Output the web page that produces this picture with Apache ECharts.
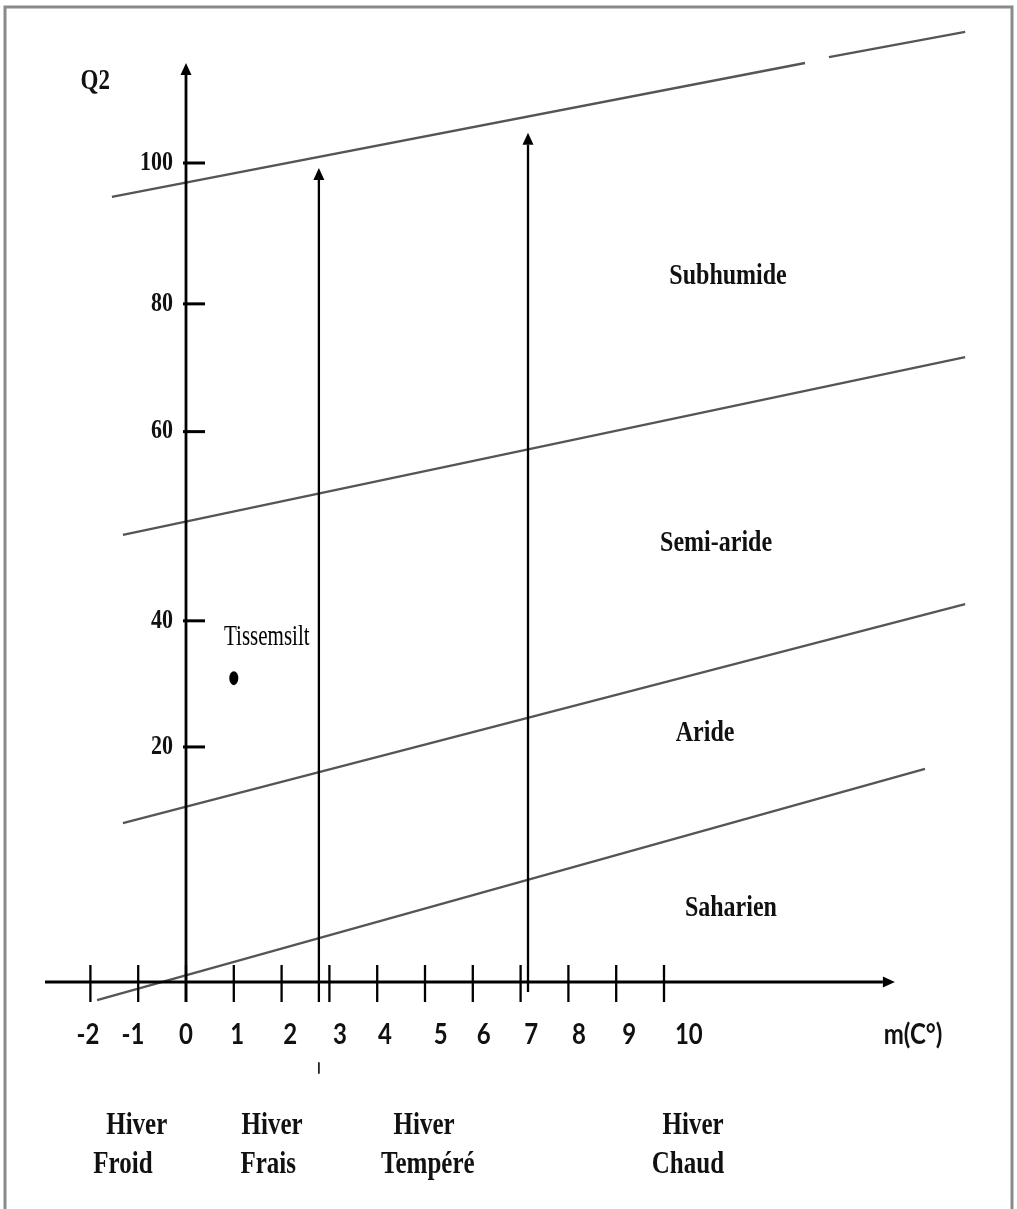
<!DOCTYPE html>
<html><head><meta charset="utf-8">
<script src="https://cdn.jsdelivr.net/npm/echarts@6/dist/echarts.min.js"></script>
<style>html,body{margin:0;padding:0;background:#fff}#c{width:1017px;height:1209px}</style>
</head><body><div id="c"></div>
<script>
// ---------- data (axis units) ----------
const xTicks = [-2,-1,0,1,2,3,4,5,6,7,8,9,10];
const xTickLabels = ['-2','-1','0','1','2','3','4','5','6','7','8','9','10'];
const xTickLabelAt = [-2.05,-1.11,0,1.07,2.18,3.22,4.16,5.33,6.23,7.22,8.22,9.27,10.52];
const xAxisName = 'm(C°)';
const xAxisNameAt = 15.21;
const q2TickLabels = ['100','80','60','40','20'];
const q2TickAt = [100, 82.8, 67.2, 44.1, 28.7];
const yAxisName = 'Q2';
const yAxisNameAt = [-1.9, 109.9];
// Emberger limit lines (m, Q2)
const limitSubhumide = [[-1.55,95.85],[12.95,112.21],[13.2,'-'],[13.45,112.94],[16.30,116.0]];
const limitSemiAride = [[-1.32,54.58],[16.30,76.31]];
const limitAride = [[-1.32,19.41],[16.30,46.15]];
const limitSaharien = [[-1.86,-2.20],[15.46,26.01]];
// arrows: axes and winter-type limits
const q2Axis = [[0,-2.44],[0,112.2]];
const mAxis = [[-2.95,0],[14.83,0]];
const limitFroidFrais = [[2.78,-2.44],[2.78,99.4]];
const limitTempereChaud = [[7.155,-1.22],[7.155,103.7]];
const strayMark = [[2.78,-9.8],[2.78,-11.2]];
// station
const stations = ['Tissemsilt'];
const stationM = [1.0];
const stationQ2 = [37.1];
const stationLabelAt = [[1.69, 42.1]];
// bioclimatic zone labels
const zoneNames = ['Subhumide','Semi-aride','Aride','Saharien'];
const zoneX = [11.34,11.09,10.86,11.40];
const zoneY = [86.2,53.6,30.4,9.04];
// winter variants
const winterTop = ['Hiver','Hiver','Hiver','Hiver'];
const winterTopX = [-1.03,1.80,4.98,10.61];
const winterTopY = -17.6;
const winterBottom = ['Froid','Frais','Tempéré','Chaud'];
const winterBottomX = [-1.32,1.72,5.06,10.5];
const winterBottomY = -22.3;

// ---------- chart ----------
const SERIF = '"Liberation Serif", "Times New Roman", serif';
const SANS = 'Lato, "Liberation Sans", sans-serif';

function textSeries(items, font, dy, sy, align, dx, fill) {
  return {
    type: 'custom', silent: true, z: 10,
    data: items.map(it => [it[0], it[1]]),
    renderItem: (params, api) => {
      const p = api.coord([api.value(0), api.value(1)]);
      return { type: 'text', x: p[0] + (dx || 0), y: p[1] + (dy || 0), scaleY: sy || 1,
        style: { text: items[params.dataIndex][2], font: font, fill: fill || '#111',
                 align: align || 'center', verticalAlign: 'middle' } };
    }
  };
}
function limitLine(data) {
  return { type: 'line', data: data, symbol: 'none', silent: true, connectNulls: false,
           lineStyle: { color: '#555', width: 2.3 }, z: 2 };
}
const arrows = [q2Axis, mAxis, limitFroidFrais, limitTempereChaud];

const option = {
  animation: false,
  grid: { left: 18.7, top: 7.39, width: 979.9, height: 1187.55, containLabel: false },
  xAxis: { type: 'value', min: -3.5, max: 17, show: false },
  yAxis: { type: 'value', min: -26, max: 119, show: false },
  graphic: [
    { type: 'rect', shape: { x: 5, y: 7, width: 1007, height: 1215 },
      style: { fill: 'none', stroke: '#8a8a8a', lineWidth: 3 }, z: 0 }
  ],
  series: [
    limitLine(limitSubhumide),
    limitLine(limitSemiAride),
    limitLine(limitAride),
    limitLine(limitSaharien),
    { // arrows
      type: 'custom', silent: true, z: 5,
      data: arrows.map(a => [a[0][0], a[0][1], a[1][0], a[1][1]]),
      encode: { x: [0, 2], y: [1, 3] },
      renderItem: (params, api) => {
        const p1 = api.coord([api.value(0), api.value(1)]);
        const p2 = api.coord([api.value(2), api.value(3)]);
        const dx = p2[0] - p1[0], dy = p2[1] - p1[1];
        const L = Math.sqrt(dx * dx + dy * dy), ux = dx / L, uy = dy / L;
        const hl = 12, hw = 5.5;
        const bx = p2[0] - ux * hl, by = p2[1] - uy * hl;
        return { type: 'group', children: [
          { type: 'line', shape: { x1: p1[0], y1: p1[1], x2: bx, y2: by },
            style: { stroke: '#000', lineWidth: params.dataIndex < 2 ? 2.8 : 2.3 } },
          { type: 'polygon', shape: { points: [[p2[0], p2[1]],
              [bx - uy * hw, by + ux * hw], [bx + uy * hw, by - ux * hw]] },
            style: { fill: '#000' } }
        ] };
      }
    },
    { // stray mark
      type: 'line', data: strayMark, symbol: 'none', silent: true,
      lineStyle: { color: '#222', width: 1.8 }
    },
    { // x ticks crossing the axis
      type: 'custom', silent: true, z: 6,
      data: xTicks.map(v => [v, 0]),
      renderItem: (params, api) => {
        const p = api.coord([api.value(0), api.value(1)]);
        return { type: 'line', shape: { x1: p[0], y1: p[1] - 17, x2: p[0], y2: p[1] + 20 },
                 style: { stroke: '#000', lineWidth: 2.3 } };
      }
    },
    { // y tick dashes
      type: 'custom', silent: true, z: 6,
      data: q2TickAt.map(v => [0, v]),
      renderItem: (params, api) => {
        const p = api.coord([api.value(0), api.value(1)]);
        return { type: 'line', shape: { x1: p[0] - 3, y1: p[1], x2: p[0] + 19, y2: p[1] },
                 style: { stroke: '#000', lineWidth: 3 } };
      }
    },
    textSeries(q2TickAt.map((v, i) => [0, v, q2TickLabels[i]]), 'bold 22px ' + SERIF, 0, 1.2, 'right', -13),
    textSeries(xTickLabelAt.map((x, i) => [x, 0, xTickLabels[i]]), 'bold 24px ' + SANS, 53, 1.2),
    textSeries([[xAxisNameAt, 0, xAxisName]], 'bold 24px ' + SANS, 53, 1.2),
    textSeries([[yAxisNameAt[0], yAxisNameAt[1], yAxisName]], 'bold 23px ' + SERIF, 0, 1.25),
    textSeries(zoneNames.map((n, i) => [zoneX[i], zoneY[i], n]), 'bold 24px ' + SERIF, 0, 1.25),
    textSeries(winterTop.map((n, i) => [winterTopX[i], winterTopY, n]), 'bold 25px ' + SERIF, 0, 1.25),
    textSeries(winterBottom.map((n, i) => [winterBottomX[i], winterBottomY, n]), 'bold 25px ' + SERIF, 0, 1.25),
    textSeries(stationLabelAt.map((p, i) => [p[0], p[1], stations[i]]), '21px ' + SERIF, 0, 1.4, 'center', 0, '#000'),
    { // station
      type: 'scatter', silent: true, z: 8,
      data: stationM.map((m, i) => [m, stationQ2[i]]),
      symbol: 'circle', symbolSize: [9, 14],
      itemStyle: { color: '#000', opacity: 1 }
    }
  ]
};
echarts.init(document.getElementById('c'), null, { renderer: 'canvas' }).setOption(option);
</script>
</body></html>
